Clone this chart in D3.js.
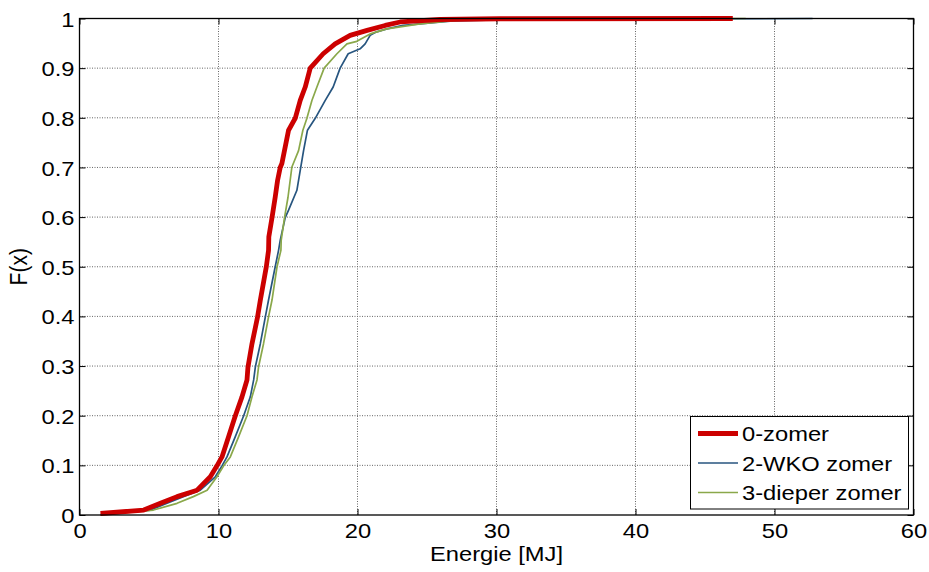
<!DOCTYPE html>
<html>
<head>
<meta charset="utf-8">
<script src="https://cdn.jsdelivr.net/npm/d3@7"></script>
<style>
  html, body { margin: 0; padding: 0; background: #fff; }
  svg { display: block; font-family: Arial, "Liberation Sans", sans-serif; }
</style>
</head>
<body>
<svg id="chart" width="929" height="572"></svg>
<script>
// ---- data ----
const seriesNames = ["0-zomer", "2-WKO zomer", "3-dieper zomer"];

const redX = [1.51, 4.62, 5.82, 7.02, 8.46, 9.41, 9.89, 10.25, 10.73, 11.21, 11.69, 12.05, 12.12, 12.41, 12.81, 13.01, 13.44, 13.60, 13.62, 13.85, 14.08, 14.25, 14.44, 14.56, 15.04, 15.52, 15.88, 16.24, 16.60, 17.53, 18.39, 19.47, 20.69, 21.99, 23.07, 25.94, 30.25, 47.0];
const redF = [0.003, 0.010, 0.0235, 0.037, 0.050, 0.077, 0.099, 0.117, 0.158, 0.200, 0.238, 0.272, 0.298, 0.345, 0.399, 0.433, 0.500, 0.533, 0.560, 0.599, 0.640, 0.674, 0.700, 0.708, 0.775, 0.799, 0.835, 0.862, 0.900, 0.929, 0.949, 0.966, 0.976, 0.986, 0.993, 0.998, 0.9995, 1.0];

const blueX = [1.51, 5.10, 6.30, 7.47, 8.69, 9.77, 10.25, 10.61, 11.21, 11.81, 12.29, 12.53, 12.65, 13.01, 13.37, 13.60, 14.08, 14.32, 14.44, 14.80, 15.04, 15.64, 15.88, 16.12, 16.40, 16.96, 17.68, 18.25, 18.75, 19.33, 20.19, 20.55, 20.91, 21.27, 22.11, 23.28, 26.87, 30.04, 52.74];
const blueF = [0.001, 0.010, 0.0235, 0.037, 0.050, 0.077, 0.099, 0.117, 0.158, 0.200, 0.238, 0.272, 0.298, 0.345, 0.399, 0.433, 0.500, 0.533, 0.553, 0.599, 0.614, 0.654, 0.694, 0.734, 0.775, 0.799, 0.835, 0.862, 0.900, 0.929, 0.939, 0.949, 0.966, 0.972, 0.979, 0.986, 0.995, 0.997, 1.0];

const greenX = [1.51, 5.32, 7.02, 8.19, 9.18, 9.89, 10.37, 10.85, 11.45, 12.05, 12.41, 12.77, 12.88, 13.24, 13.60, 13.85, 14.21, 14.49, 14.51, 14.75, 15.00, 15.28, 15.76, 16.07, 16.36, 16.72, 17.08, 17.60, 18.52, 19.24, 19.95, 20.91, 22.11, 24.50, 27.38, 30.25, 47.93];
const greenF = [0.000, 0.010, 0.0235, 0.037, 0.050, 0.077, 0.099, 0.117, 0.158, 0.200, 0.238, 0.272, 0.298, 0.345, 0.399, 0.433, 0.500, 0.533, 0.553, 0.599, 0.640, 0.701, 0.734, 0.775, 0.799, 0.835, 0.862, 0.900, 0.929, 0.949, 0.954, 0.969, 0.979, 0.989, 0.997, 0.999, 1.0];

const xTicks = [0, 10, 20, 30, 40, 50, 60];
const yTicks = [0, 0.1, 0.2, 0.3, 0.4, 0.5, 0.6, 0.7, 0.8, 0.9, 1];
const yTickLabels = ["0", "0.1", "0.2", "0.3", "0.4", "0.5", "0.6", "0.7", "0.8", "0.9", "1"];
const xLabel = "Energie [MJ]";
const yLabel = "F(x)";

// ---- layout ----
const L = 79.5, R = 913.5, T = 18.5, B = 515;
const FS = 21, SX = 1.13; // font size and horizontal stretch of the reference text
const svg = d3.select("#chart");
const x = d3.scaleLinear().domain([0, 60]).range([L, R]);
const y = d3.scaleLinear().domain([0, 1]).range([B, T]);

// grid
const grid = svg.append("g");
grid.selectAll("line.vx").data(xTicks.slice(1, -1)).enter().append("line")
  .attr("x1", d => x(d)).attr("x2", d => x(d)).attr("y1", T).attr("y2", B)
  .attr("stroke", "#666").attr("stroke-width", 1).attr("stroke-dasharray", "1,1.5");
grid.selectAll("line.hy").data(yTicks.slice(1, -1)).enter().append("line")
  .attr("y1", d => y(d)).attr("y2", d => y(d)).attr("x1", L).attr("x2", R)
  .attr("stroke", "#666").attr("stroke-width", 1).attr("stroke-dasharray", "1,1.5");

// axes (ticks inward, on all four sides)
const tk = 6;
const gx = svg.append("g").attr("transform", `translate(0,${B})`)
  .call(d3.axisBottom(x).tickValues(xTicks).tickSize(-tk).tickPadding(0).tickFormat(d3.format("d")))
  .call(g => g.select(".domain").remove());
gx.selectAll(".tick text").attr("y", 0).attr("dy", 0)
  .attr("transform", `translate(0,23) scale(${SX},1)`);
svg.append("g").attr("transform", `translate(0,${T})`)
  .call(d3.axisTop(x).tickValues(xTicks).tickSize(-tk).tickFormat(""))
  .call(g => g.select(".domain").remove());
const gy = svg.append("g").attr("transform", `translate(${L},0)`)
  .call(d3.axisLeft(y).tickValues(yTicks).tickSize(-tk).tickPadding(0).tickFormat((d, i) => yTickLabels[i]))
  .call(g => g.select(".domain").remove());
gy.selectAll(".tick text").attr("x", 0).attr("dy", "0.36em")
  .attr("transform", `translate(-5,0) scale(${SX},1)`);
svg.append("g").attr("transform", `translate(${R},0)`)
  .call(d3.axisRight(y).tickValues(yTicks).tickSize(-tk).tickFormat(""))
  .call(g => g.select(".domain").remove());
svg.selectAll(".tick line").attr("stroke", "#000");
svg.selectAll(".tick text").attr("font-size", FS).attr("fill", "#000")
  .attr("font-family", "Arial, 'Liberation Sans', sans-serif");

// lines
const mk = (xs, fs) => xs.map((v, i) => [v, fs[i]]);
const line = d3.line().x(d => x(d[0])).y(d => y(d[1]));
const series = [
  { name: seriesNames[1], pts: mk(blueX, blueF), color: "#27557f", w: 1.7 },
  { name: seriesNames[2], pts: mk(greenX, greenF), color: "#8aa84a", w: 1.7 },
  { name: seriesNames[0], pts: mk(redX, redF), color: "#cc0000", w: 4.8 }
];
svg.append("g").selectAll("path").data(series).enter().append("path")
  .attr("d", d => line(d.pts)).attr("fill", "none")
  .attr("stroke", d => d.color).attr("stroke-width", d => d.w)
  .attr("stroke-linejoin", "round");

// box
svg.append("rect").attr("x", L).attr("y", T).attr("width", R - L).attr("height", B - T)
  .attr("fill", "none").attr("stroke", "#000").attr("stroke-width", 1.3);

// axis labels
svg.append("text").attr("transform", `translate(${(L + R) / 2},561) scale(${SX},1)`)
  .attr("text-anchor", "middle").attr("font-size", FS).text(xLabel);
svg.append("text").attr("transform", `translate(27,${(T + B) / 2}) rotate(-90) scale(1,${SX})`)
  .attr("text-anchor", "middle").attr("font-size", FS).text(yLabel);

// legend
const lg = svg.append("g");
lg.append("rect").attr("x", 690.5).attr("y", 416.5).attr("width", 218).attr("height", 92.5)
  .attr("fill", "#fff").attr("stroke", "#000").attr("stroke-width", 1);
const legendOrder = [
  { name: seriesNames[0], color: "#cc0000", w: 4.8 },
  { name: seriesNames[1], color: "#27557f", w: 1.7 },
  { name: seriesNames[2], color: "#8aa84a", w: 1.7 }
];
legendOrder.forEach((s, i) => {
  const cy = 433.5 + i * 29.5;
  lg.append("line").attr("x1", 698).attr("x2", 738).attr("y1", cy).attr("y2", cy)
    .attr("stroke", s.color).attr("stroke-width", s.w);
  lg.append("text").attr("transform", `translate(742,${cy + 7.5}) scale(${SX},1)`)
    .attr("font-size", FS).text(s.name);
});
</script>
</body>
</html>
